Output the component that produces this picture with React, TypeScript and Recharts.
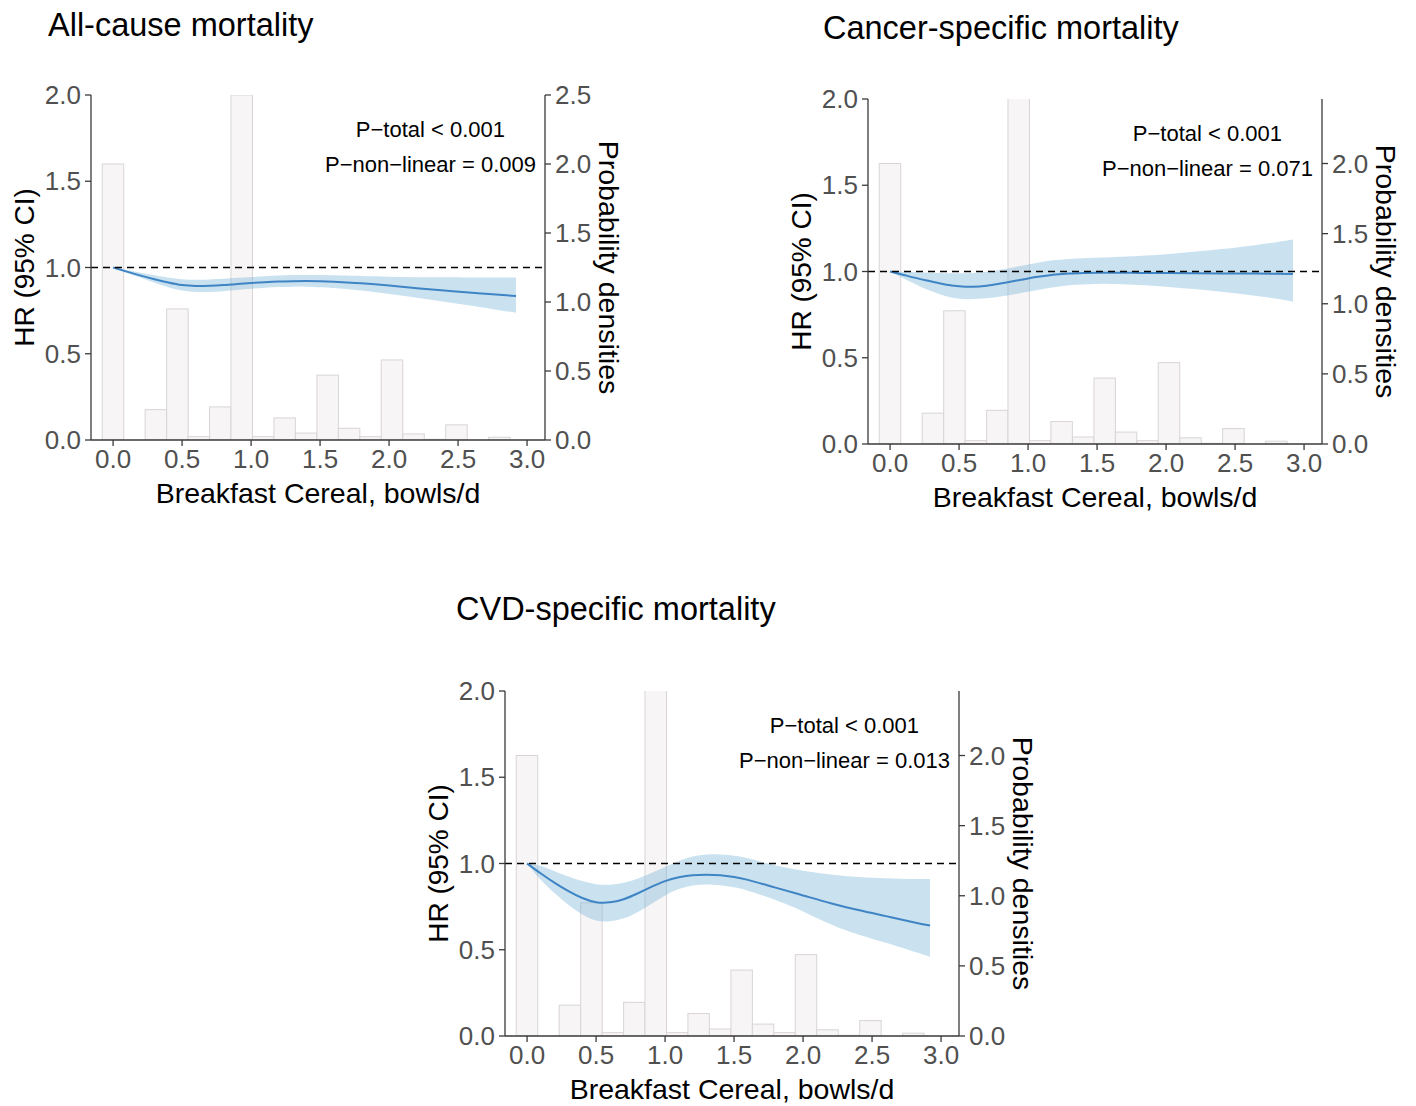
import React from 'react'
import {
  ComposedChart,
  Bar,
  Area,
  Line,
  XAxis,
  YAxis,
  ReferenceLine,
  ReferenceDot,
} from 'recharts'

// histogram of breakfast cereal intake (bowls/d), shared by the three panels
const binCenters = [0, 0.156, 0.311, 0.467, 0.622, 0.778, 0.933, 1.089, 1.244, 1.4, 1.556, 1.711, 1.867, 2.022, 2.178, 2.333, 2.489, 2.644, 2.8]
const densities = [2.0, 0, 0.22, 0.95, 0.024, 0.24, 2.5, 0.024, 0.16, 0.05, 0.47, 0.085, 0.024, 0.58, 0.044, 0.005, 0.11, 0, 0.02]
const binWidth = 0.1556

// restricted cubic spline fits, HR with 95% CI
const splineX = [0, 0.1, 0.2, 0.3, 0.4, 0.5, 0.6, 0.7, 0.8, 0.9, 1.0, 1.1, 1.2, 1.3, 1.4, 1.5, 1.6, 1.8, 2.0, 2.2, 2.4, 2.6, 2.8, 2.92]

const allHr = [1.0, 0.976, 0.953, 0.932, 0.913, 0.898, 0.893, 0.894, 0.898, 0.904, 0.91, 0.915, 0.919, 0.921, 0.922, 0.921, 0.918, 0.908, 0.895, 0.88, 0.866, 0.854, 0.842, 0.835]
const allLo = [1.0, 0.968, 0.94, 0.912, 0.886, 0.866, 0.858, 0.858, 0.863, 0.87, 0.877, 0.883, 0.887, 0.889, 0.889, 0.886, 0.881, 0.866, 0.846, 0.824, 0.801, 0.778, 0.752, 0.738]
const allHi = [1.0, 0.986, 0.97, 0.955, 0.942, 0.932, 0.929, 0.931, 0.935, 0.94, 0.945, 0.95, 0.954, 0.956, 0.957, 0.957, 0.955, 0.951, 0.947, 0.944, 0.943, 0.942, 0.942, 0.942]

const cancerHr = [1.0, 0.98, 0.96, 0.942, 0.925, 0.915, 0.912, 0.918, 0.93, 0.945, 0.96, 0.972, 0.982, 0.988, 0.991, 0.993, 0.993, 0.992, 0.991, 0.99, 0.989, 0.988, 0.987, 0.986]
const cancerLo = [1.0, 0.96, 0.92, 0.885, 0.858, 0.842, 0.84, 0.845, 0.855, 0.868, 0.882, 0.897, 0.91, 0.92, 0.925, 0.928, 0.928, 0.922, 0.912, 0.898, 0.882, 0.864, 0.842, 0.825]
const cancerHi = [1.0, 0.998, 0.995, 0.993, 0.99, 0.99, 0.992, 0.998, 1.01, 1.025, 1.04, 1.055, 1.066, 1.073, 1.077, 1.08, 1.083, 1.09, 1.1, 1.114, 1.13, 1.148, 1.17, 1.185]

const cvdHr = [1.0, 0.942, 0.888, 0.84, 0.8, 0.776, 0.775, 0.793, 0.826, 0.864, 0.898, 0.92, 0.932, 0.935, 0.932, 0.922, 0.905, 0.86, 0.815, 0.77, 0.73, 0.695, 0.66, 0.64]
const cvdLo = [1.0, 0.905, 0.828, 0.76, 0.705, 0.67, 0.665, 0.682, 0.718, 0.765, 0.815, 0.852, 0.872, 0.878, 0.874, 0.862, 0.842, 0.788, 0.722, 0.648, 0.588, 0.54, 0.49, 0.46]
const cvdHi = [1.0, 0.985, 0.955, 0.925, 0.898, 0.88, 0.877, 0.888, 0.912, 0.945, 0.98, 1.015, 1.04, 1.052, 1.052, 1.045, 1.03, 0.99, 0.958, 0.936, 0.922, 0.915, 0.91, 0.91]

const xTicks = [0, 0.5, 1, 1.5, 2, 2.5, 3]
const hrTicks = [0, 0.5, 1, 1.5, 2]
const X_DOMAIN: [number, number] = [-0.16, 3.13]

const PLOT_W = 454
const PLOT_H = 345
const AXIS_L = 100
const AXIS_R = 90
const AXIS_B = 75
const PAD_T = 20

const AXIS_COLOR = '#3a3a3a'
const TICK_FONT = { fontSize: 26, fill: '#505050' }
const fmt = (v: number) => v.toFixed(1)

// pixel width of one histogram bin
const BIN_PX = (binWidth / (X_DOMAIN[1] - X_DOMAIN[0])) * PLOT_W

// draw each bin at full bin width, centred where Recharts puts the bar
function HistBin(props: any) {
  const { x, y, width, height } = props
  if (!height || height <= 0) return null
  const cx = x + width / 2
  return (
    <rect
      x={cx - BIN_PX / 2}
      y={y}
      width={BIN_PX}
      height={height}
      fill="#f7f5f5"
      stroke="#d9d5d5"
      strokeWidth={1}
    />
  )
}

type PanelProps = {
  title: string
  titleLeft: number
  titleY: number
  plotLeft: number
  plotTop: number
  hr: number[]
  lo: number[]
  hi: number[]
  pNonLinear: string
  densMax: number
  densTicks: number[]
}

function Panel({ title, titleLeft, titleY, plotLeft, plotTop, hr, lo, hi, pNonLinear, densMax, densTicks }: PanelProps) {
  const hist = binCenters.map((x, i) => ({ x, density: densities[i] }))
  const curve = splineX.map((x, i) => ({ x, hr: hr[i], band: [lo[i], hi[i]] }))

  return (
    <>
      <div
        style={{
          position: 'absolute',
          left: titleLeft,
          top: titleY - 18,
          fontSize: 32.5,
          lineHeight: '36px',
          whiteSpace: 'nowrap',
          color: '#000',
        }}
      >
        {title}
      </div>
      <div style={{ position: 'absolute', left: plotLeft - AXIS_L, top: plotTop - PAD_T }}>
        <ComposedChart
          width={AXIS_L + PLOT_W + AXIS_R}
          height={PAD_T + PLOT_H + AXIS_B}
          data={hist}
          margin={{ top: PAD_T, right: 0, bottom: 0, left: 0 }}
        >
          <XAxis
            dataKey="x"
            type="number"
            domain={X_DOMAIN}
            ticks={xTicks}
            tickFormatter={fmt}
            height={AXIS_B}
            tick={TICK_FONT}
            tickSize={6}
            tickMargin={4}
            stroke={AXIS_COLOR}
            strokeWidth={1.3}
            label={{ value: 'Breakfast Cereal, bowls/d', position: 'insideBottom', offset: 12, fontSize: 28.5, fill: '#000' }}
          />
          <YAxis
            yAxisId="hr"
            domain={[0, 2]}
            ticks={hrTicks}
            tickFormatter={fmt}
            width={AXIS_L}
            tick={TICK_FONT}
            tickSize={6}
            tickMargin={4}
            stroke={AXIS_COLOR}
            strokeWidth={1.3}
            label={{
              value: 'HR (95% CI)',
              angle: -90,
              position: 'insideLeft',
              offset: 33,
              fontSize: 28,
              fill: '#000',
              style: { textAnchor: 'middle' },
            }}
          />
          <YAxis
            yAxisId="dens"
            orientation="right"
            domain={[0, densMax]}
            allowDataOverflow
            ticks={densTicks}
            tickFormatter={fmt}
            width={AXIS_R}
            tick={TICK_FONT}
            tickSize={6}
            tickMargin={4}
            stroke={AXIS_COLOR}
            strokeWidth={1.3}
            label={{
              value: 'Probability densities',
              angle: 90,
              position: 'insideLeft',
              offset: 64,
              fontSize: 28.5,
              fill: '#000',
              style: { textAnchor: 'middle' },
            }}
          />
          {/* histogram sits beneath the translucent CI ribbon */}
          <Bar yAxisId="dens" dataKey="density" shape={HistBin} zIndex={50} isAnimationActive={false} />
          <Area
            yAxisId="hr"
            data={curve}
            dataKey="band"
            type="natural"
            stroke="none"
            fill="#6baed6"
            fillOpacity={0.36}
            zIndex={100}
            isAnimationActive={false}
          />
          <Line
            yAxisId="hr"
            data={curve}
            dataKey="hr"
            type="natural"
            stroke="#3f84c4"
            strokeWidth={2}
            dot={false}
            isAnimationActive={false}
          />
          <ReferenceLine yAxisId="hr" y={1} stroke="#000" strokeDasharray="7 5" strokeWidth={1.5} />
          <ReferenceDot
            yAxisId="hr"
            x={2.3}
            y={1.8}
            r={0}
            fill="none"
            stroke="none"
            label={{ value: 'P\u2212total < 0.001', position: 'center', fontSize: 22, fill: '#000' }}
          />
          <ReferenceDot
            yAxisId="hr"
            x={2.3}
            y={1.6}
            r={0}
            fill="none"
            stroke="none"
            label={{ value: `P\u2212non\u2212linear = ${pNonLinear}`, position: 'center', fontSize: 22, fill: '#000' }}
          />
        </ComposedChart>
      </div>
    </>
  )
}

export default function App() {
  return (
    <div
      style={{
        position: 'absolute',
        left: 0,
        top: 0,
        width: 1416,
        height: 1106,
        background: '#fff',
        fontFamily: '"Liberation Sans", Arial, sans-serif',
      }}
    >
      <Panel
        title="All-cause mortality"
        titleLeft={48}
        titleY={25}
        plotLeft={91}
        plotTop={95}
        hr={allHr}
        lo={allLo}
        hi={allHi}
        pNonLinear="0.009"
        densMax={2.5}
        densTicks={[0, 0.5, 1, 1.5, 2, 2.5]}
      />
      <Panel
        title="Cancer-specific mortality"
        titleLeft={823}
        titleY={28}
        plotLeft={868}
        plotTop={99}
        hr={cancerHr}
        lo={cancerLo}
        hi={cancerHi}
        pNonLinear="0.071"
        densMax={2.46}
        densTicks={[0, 0.5, 1, 1.5, 2]}
      />
      <Panel
        title="CVD-specific mortality"
        titleLeft={456}
        titleY={609}
        plotLeft={505}
        plotTop={691}
        hr={cvdHr}
        lo={cvdLo}
        hi={cvdHi}
        pNonLinear="0.013"
        densMax={2.46}
        densTicks={[0, 0.5, 1, 1.5, 2]}
      />
    </div>
  )
}
